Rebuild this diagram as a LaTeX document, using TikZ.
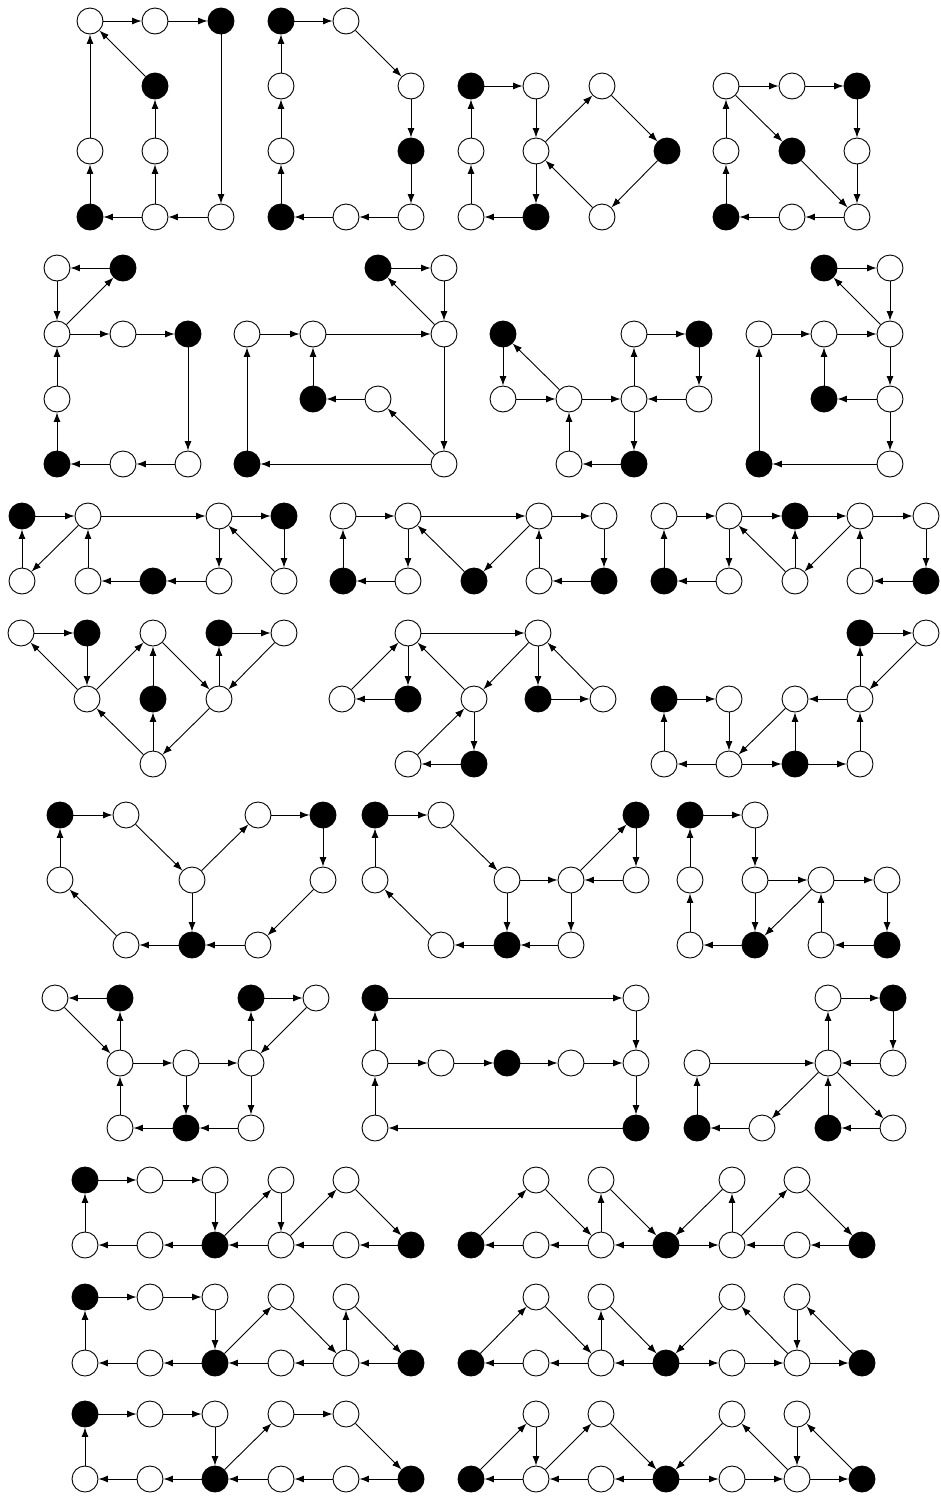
\documentclass[tikz,border=0pt]{standalone}
\usepackage{tikz}
\usetikzlibrary{arrows.meta}
\tikzset{
  wv/.style={circle,draw,fill=white,minimum size=26pt,inner sep=0pt,line width=0.9pt},
  bv/.style={wv,fill=black},
  link/.style={-{Latex[length=9.5pt,width=7pt]},line width=0.9pt}
}
\begin{document}
\begin{tikzpicture}[x=1pt,y=-1pt]
\useasboundingbox (0,0) rectangle (941,1497);
\node[wv] (a1) at (90,21) {}; \node[wv] (a2) at (155,21) {}; \node[bv] (a3) at (221,21) {};
\node[bv] (a4) at (155,86) {};
\node[wv] (a5) at (90,151) {}; \node[wv] (a6) at (155,151) {};
\node[bv] (a7) at (90,217) {}; \node[wv] (a8) at (155,217) {}; \node[wv] (a9) at (221,217) {};
\draw[link] (a1)--(a2); \draw[link] (a2)--(a3); \draw[link] (a3)--(a9); \draw[link] (a9)--(a8);
\draw[link] (a8)--(a7); \draw[link] (a7)--(a5); \draw[link] (a5)--(a1); \draw[link] (a8)--(a6);
\draw[link] (a6)--(a4); \draw[link] (a4)--(a1);

\node[bv] (b1) at (281,21) {}; \node[wv] (b2) at (346,21) {};
\node[wv] (b3) at (281,86) {}; \node[wv] (b4) at (411,86) {};
\node[wv] (b5) at (281,151) {}; \node[bv] (b6) at (411,151) {};
\node[bv] (b7) at (281,217) {}; \node[wv] (b8) at (346,217) {}; \node[wv] (b9) at (411,217) {};
\draw[link] (b1)--(b2); \draw[link] (b2)--(b4); \draw[link] (b4)--(b6); \draw[link] (b6)--(b9);
\draw[link] (b9)--(b8); \draw[link] (b8)--(b7); \draw[link] (b7)--(b5); \draw[link] (b5)--(b3);
\draw[link] (b3)--(b1);

\node[bv] (c1) at (471,86) {}; \node[wv] (c2) at (536,86) {}; \node[wv] (c3) at (602,86) {};
\node[wv] (c4) at (471,151) {}; \node[wv] (c5) at (536,151) {}; \node[bv] (c6) at (667,151) {};
\node[wv] (c7) at (471,217) {}; \node[bv] (c8) at (536,217) {}; \node[wv] (c9) at (602,217) {};
\draw[link] (c1)--(c2); \draw[link] (c2)--(c5); \draw[link] (c5)--(c3); \draw[link] (c3)--(c6);
\draw[link] (c6)--(c9); \draw[link] (c9)--(c5); \draw[link] (c5)--(c8); \draw[link] (c8)--(c7);
\draw[link] (c7)--(c4); \draw[link] (c4)--(c1);

\node[wv] (d1) at (726,86) {}; \node[wv] (d2) at (792,86) {}; \node[bv] (d3) at (857,86) {};
\node[wv] (d4) at (726,151) {}; \node[bv] (d5) at (792,151) {}; \node[wv] (d6) at (857,151) {};
\node[bv] (d7) at (726,217) {}; \node[wv] (d8) at (792,217) {}; \node[wv] (d9) at (857,217) {};
\draw[link] (d1)--(d2); \draw[link] (d2)--(d3); \draw[link] (d3)--(d6); \draw[link] (d6)--(d9);
\draw[link] (d1)--(d5); \draw[link] (d5)--(d9); \draw[link] (d9)--(d8); \draw[link] (d8)--(d7);
\draw[link] (d7)--(d4); \draw[link] (d4)--(d1);

\node[wv] (e1) at (57,268) {}; \node[bv] (e2) at (123,268) {};
\node[wv] (e3) at (57,334) {}; \node[wv] (e4) at (123,334) {}; \node[bv] (e5) at (188,334) {};
\node[wv] (e6) at (57,399) {};
\node[bv] (e7) at (57,464) {}; \node[wv] (e8) at (123,464) {}; \node[wv] (e9) at (188,464) {};
\draw[link] (e2)--(e1); \draw[link] (e1)--(e3); \draw[link] (e3)--(e2); \draw[link] (e3)--(e4);
\draw[link] (e4)--(e5); \draw[link] (e5)--(e9); \draw[link] (e9)--(e8); \draw[link] (e8)--(e7);
\draw[link] (e7)--(e6); \draw[link] (e6)--(e3);

\node[bv] (f1) at (378,268) {}; \node[wv] (f2) at (444,268) {};
\node[wv] (f3) at (247,334) {}; \node[wv] (f4) at (313,334) {}; \node[wv] (f5) at (444,334) {};
\node[bv] (f6) at (313,399) {}; \node[wv] (f7) at (378,399) {};
\node[bv] (f8) at (247,464) {}; \node[wv] (f9) at (444,464) {};
\draw[link] (f1)--(f2); \draw[link] (f2)--(f5); \draw[link] (f5)--(f1); \draw[link] (f3)--(f4);
\draw[link] (f4)--(f5); \draw[link] (f5)--(f9); \draw[link] (f9)--(f7); \draw[link] (f7)--(f6);
\draw[link] (f6)--(f4); \draw[link] (f9)--(f8); \draw[link] (f8)--(f3);

\node[bv] (g1) at (503,334) {}; \node[wv] (g2) at (634,334) {}; \node[bv] (g3) at (699,334) {};
\node[wv] (g4) at (503,399) {}; \node[wv] (g5) at (569,399) {}; \node[wv] (g6) at (634,399) {}; \node[wv] (g7) at (699,399) {};
\node[wv] (g8) at (569,464) {}; \node[bv] (g9) at (634,464) {};
\draw[link] (g1)--(g4); \draw[link] (g4)--(g5); \draw[link] (g5)--(g1); \draw[link] (g5)--(g6);
\draw[link] (g6)--(g2); \draw[link] (g2)--(g3); \draw[link] (g3)--(g7); \draw[link] (g7)--(g6);
\draw[link] (g6)--(g9); \draw[link] (g9)--(g8); \draw[link] (g8)--(g5);

\node[bv] (h1) at (824,268) {}; \node[wv] (h2) at (890,268) {};
\node[wv] (h3) at (759,334) {}; \node[wv] (h4) at (824,334) {}; \node[wv] (h5) at (890,334) {};
\node[bv] (h6) at (824,399) {}; \node[wv] (h7) at (890,399) {};
\node[bv] (h8) at (759,464) {}; \node[wv] (h9) at (890,464) {};
\draw[link] (h1)--(h2); \draw[link] (h2)--(h5); \draw[link] (h5)--(h1); \draw[link] (h3)--(h4);
\draw[link] (h4)--(h5); \draw[link] (h5)--(h7); \draw[link] (h7)--(h6); \draw[link] (h6)--(h4);
\draw[link] (h7)--(h9); \draw[link] (h9)--(h8); \draw[link] (h8)--(h3);

\node[bv] (i1) at (22,516) {}; \node[wv] (i2) at (88,516) {}; \node[wv] (i3) at (219,516) {}; \node[bv] (i4) at (284,516) {};
\node[wv] (i5) at (22,581) {}; \node[wv] (i6) at (88,581) {}; \node[bv] (i7) at (153,581) {}; \node[wv] (i8) at (219,581) {}; \node[wv] (i9) at (284,581) {};
\draw[link] (i1)--(i2); \draw[link] (i2)--(i3); \draw[link] (i3)--(i4); \draw[link] (i5)--(i1);
\draw[link] (i2)--(i5); \draw[link] (i6)--(i2); \draw[link] (i7)--(i6); \draw[link] (i8)--(i7);
\draw[link] (i3)--(i8); \draw[link] (i4)--(i9); \draw[link] (i9)--(i3);

\node[wv] (j1) at (343,516) {}; \node[wv] (j2) at (408,516) {}; \node[wv] (j3) at (539,516) {}; \node[wv] (j4) at (604,516) {};
\node[bv] (j5) at (343,581) {}; \node[wv] (j6) at (408,581) {}; \node[bv] (j7) at (474,581) {}; \node[wv] (j8) at (539,581) {}; \node[bv] (j9) at (604,581) {};
\draw[link] (j1)--(j2); \draw[link] (j2)--(j3); \draw[link] (j3)--(j4); \draw[link] (j5)--(j1);
\draw[link] (j2)--(j6); \draw[link] (j6)--(j5); \draw[link] (j7)--(j2); \draw[link] (j3)--(j7);
\draw[link] (j8)--(j3); \draw[link] (j9)--(j8); \draw[link] (j4)--(j9);

\node[wv] (k1) at (664,516) {}; \node[wv] (k2) at (729,516) {}; \node[bv] (k3) at (795,516) {}; \node[wv] (k4) at (860,516) {}; \node[wv] (k5) at (926,516) {};
\node[bv] (k6) at (664,581) {}; \node[wv] (k7) at (729,581) {}; \node[wv] (k8) at (795,581) {}; \node[wv] (k9) at (860,581) {}; \node[bv] (k10) at (926,581) {};
\draw[link] (k1)--(k2); \draw[link] (k2)--(k3); \draw[link] (k3)--(k4); \draw[link] (k4)--(k5);
\draw[link] (k6)--(k1); \draw[link] (k2)--(k7); \draw[link] (k7)--(k6); \draw[link] (k8)--(k2);
\draw[link] (k8)--(k3); \draw[link] (k4)--(k8); \draw[link] (k9)--(k4); \draw[link] (k10)--(k9);
\draw[link] (k5)--(k10);

\node[wv] (l1) at (21,633) {}; \node[bv] (l2) at (87,633) {}; \node[wv] (l3) at (153,633) {}; \node[bv] (l4) at (219,633) {}; \node[wv] (l5) at (284,633) {};
\node[wv] (l6) at (87,699) {}; \node[bv] (l7) at (153,699) {}; \node[wv] (l8) at (219,699) {};
\node[wv] (l9) at (153,764) {};
\draw[link] (l1)--(l2); \draw[link] (l2)--(l6); \draw[link] (l6)--(l1); \draw[link] (l6)--(l3);
\draw[link] (l7)--(l3); \draw[link] (l3)--(l8); \draw[link] (l9)--(l7); \draw[link] (l9)--(l6);
\draw[link] (l8)--(l9); \draw[link] (l8)--(l4); \draw[link] (l4)--(l5); \draw[link] (l5)--(l8);

\node[wv] (m1) at (408,633) {}; \node[wv] (m2) at (538,633) {};
\node[wv] (m3) at (342,699) {}; \node[bv] (m4) at (408,699) {}; \node[wv] (m5) at (474,699) {}; \node[bv] (m6) at (538,699) {}; \node[wv] (m7) at (603,699) {};
\node[wv] (m8) at (408,764) {}; \node[bv] (m9) at (474,764) {};
\draw[link] (m1)--(m2); \draw[link] (m3)--(m1); \draw[link] (m1)--(m4); \draw[link] (m4)--(m3);
\draw[link] (m5)--(m1); \draw[link] (m2)--(m5); \draw[link] (m2)--(m6); \draw[link] (m6)--(m7);
\draw[link] (m7)--(m2); \draw[link] (m8)--(m5); \draw[link] (m5)--(m9); \draw[link] (m9)--(m8);

\node[bv] (n1) at (860,633) {}; \node[wv] (n2) at (926,633) {};
\node[bv] (n3) at (664,699) {}; \node[wv] (n4) at (729,699) {}; \node[wv] (n5) at (795,699) {}; \node[wv] (n6) at (860,699) {};
\node[wv] (n7) at (664,764) {}; \node[wv] (n8) at (729,764) {}; \node[bv] (n9) at (795,764) {}; \node[wv] (n10) at (860,764) {};
\draw[link] (n1)--(n2); \draw[link] (n2)--(n6); \draw[link] (n6)--(n1); \draw[link] (n6)--(n5);
\draw[link] (n5)--(n8); \draw[link] (n3)--(n4); \draw[link] (n4)--(n8); \draw[link] (n8)--(n7);
\draw[link] (n7)--(n3); \draw[link] (n8)--(n9); \draw[link] (n9)--(n5); \draw[link] (n9)--(n10);
\draw[link] (n10)--(n6);

\node[bv] (o1) at (60,815) {}; \node[wv] (o2) at (126,815) {}; \node[wv] (o3) at (258,815) {}; \node[bv] (o4) at (323,815) {};
\node[wv] (o5) at (60,880) {}; \node[wv] (o6) at (192,880) {}; \node[wv] (o7) at (323,880) {};
\node[wv] (o8) at (126,945) {}; \node[bv] (o9) at (192,945) {}; \node[wv] (o10) at (258,945) {};
\draw[link] (o1)--(o2); \draw[link] (o2)--(o6); \draw[link] (o6)--(o3); \draw[link] (o3)--(o4);
\draw[link] (o4)--(o7); \draw[link] (o7)--(o10); \draw[link] (o10)--(o9); \draw[link] (o9)--(o8);
\draw[link] (o6)--(o9); \draw[link] (o8)--(o5); \draw[link] (o5)--(o1);

\node[bv] (p1) at (375,815) {}; \node[wv] (p2) at (441,815) {}; \node[bv] (p3) at (636,815) {};
\node[wv] (p4) at (375,880) {}; \node[wv] (p5) at (507,880) {}; \node[wv] (p6) at (571,880) {}; \node[wv] (p7) at (636,880) {};
\node[wv] (p8) at (441,945) {}; \node[bv] (p9) at (507,945) {}; \node[wv] (p10) at (571,945) {};
\draw[link] (p1)--(p2); \draw[link] (p2)--(p5); \draw[link] (p5)--(p6); \draw[link] (p7)--(p6);
\draw[link] (p6)--(p3); \draw[link] (p3)--(p7); \draw[link] (p5)--(p9); \draw[link] (p6)--(p10);
\draw[link] (p10)--(p9); \draw[link] (p9)--(p8); \draw[link] (p8)--(p4); \draw[link] (p4)--(p1);

\node[bv] (q1) at (690,815) {}; \node[wv] (q2) at (755,815) {};
\node[wv] (q3) at (690,880) {}; \node[wv] (q4) at (755,880) {}; \node[wv] (q5) at (821,880) {}; \node[wv] (q6) at (887,880) {};
\node[wv] (q7) at (690,945) {}; \node[bv] (q8) at (755,945) {}; \node[wv] (q9) at (821,945) {}; \node[bv] (q10) at (887,945) {};
\draw[link] (q1)--(q2); \draw[link] (q2)--(q4); \draw[link] (q4)--(q5); \draw[link] (q5)--(q6);
\draw[link] (q6)--(q10); \draw[link] (q10)--(q9); \draw[link] (q9)--(q5); \draw[link] (q5)--(q8);
\draw[link] (q4)--(q8); \draw[link] (q8)--(q7); \draw[link] (q7)--(q3); \draw[link] (q3)--(q1);

\node[wv] (r1) at (55,998) {}; \node[bv] (r2) at (120,998) {}; \node[bv] (r3) at (251,998) {}; \node[wv] (r4) at (316,998) {};
\node[wv] (r5) at (120,1063) {}; \node[wv] (r6) at (186,1063) {}; \node[wv] (r7) at (251,1063) {};
\node[wv] (r8) at (120,1128) {}; \node[bv] (r9) at (186,1128) {}; \node[wv] (r10) at (251,1128) {};
\draw[link] (r2)--(r1); \draw[link] (r1)--(r5); \draw[link] (r5)--(r2); \draw[link] (r3)--(r4);
\draw[link] (r4)--(r7); \draw[link] (r7)--(r3); \draw[link] (r5)--(r6); \draw[link] (r6)--(r7);
\draw[link] (r6)--(r9); \draw[link] (r7)--(r10); \draw[link] (r10)--(r9); \draw[link] (r9)--(r8);
\draw[link] (r8)--(r5);

\node[bv] (s1) at (375,998) {}; \node[wv] (s2) at (636,998) {};
\node[wv] (s3) at (375,1063) {}; \node[wv] (s4) at (441,1063) {}; \node[bv] (s5) at (507,1063) {}; \node[wv] (s6) at (571,1063) {}; \node[wv] (s7) at (636,1063) {};
\node[wv] (s8) at (375,1128) {}; \node[bv] (s9) at (636,1128) {};
\draw[link] (s1)--(s2); \draw[link] (s2)--(s7); \draw[link] (s3)--(s4); \draw[link] (s4)--(s5);
\draw[link] (s5)--(s6); \draw[link] (s6)--(s7); \draw[link] (s7)--(s9); \draw[link] (s9)--(s8);
\draw[link] (s8)--(s3); \draw[link] (s3)--(s1);

\node[wv] (t1) at (828,998) {}; \node[bv] (t2) at (893,998) {};
\node[wv] (t3) at (697,1063) {}; \node[wv] (t4) at (828,1063) {}; \node[wv] (t5) at (893,1063) {};
\node[bv] (t6) at (697,1128) {}; \node[wv] (t7) at (762,1128) {}; \node[bv] (t8) at (828,1128) {}; \node[wv] (t9) at (893,1128) {};
\draw[link] (t1)--(t2); \draw[link] (t2)--(t5); \draw[link] (t5)--(t4); \draw[link] (t4)--(t1);
\draw[link] (t3)--(t4); \draw[link] (t4)--(t7); \draw[link] (t7)--(t6); \draw[link] (t6)--(t3);
\draw[link] (t8)--(t4); \draw[link] (t4)--(t9); \draw[link] (t9)--(t8);

\node[bv] (u1) at (85,1180) {}; \node[wv] (u2) at (150,1180) {}; \node[wv] (u3) at (215,1180) {}; \node[wv] (u4) at (281,1180) {}; \node[wv] (u5) at (346,1180) {};
\node[wv] (u6) at (85,1245) {}; \node[wv] (u7) at (150,1245) {}; \node[bv] (u8) at (215,1245) {}; \node[wv] (u9) at (281,1245) {}; \node[wv] (u10) at (346,1245) {}; \node[bv] (u11) at (411,1245) {};
\draw[link] (u1)--(u2); \draw[link] (u2)--(u3); \draw[link] (u3)--(u8); \draw[link] (u8)--(u4);
\draw[link] (u4)--(u9); \draw[link] (u9)--(u5); \draw[link] (u5)--(u11); \draw[link] (u11)--(u10);
\draw[link] (u10)--(u9); \draw[link] (u9)--(u8); \draw[link] (u8)--(u7); \draw[link] (u7)--(u6);
\draw[link] (u6)--(u1);

\node[wv] (v1) at (536,1180) {}; \node[wv] (v2) at (601,1180) {}; \node[wv] (v3) at (732,1180) {}; \node[wv] (v4) at (797,1180) {};
\node[bv] (v5) at (471,1245) {}; \node[wv] (v6) at (536,1245) {}; \node[wv] (v7) at (601,1245) {}; \node[bv] (v8) at (666,1245) {}; \node[wv] (v9) at (732,1245) {}; \node[wv] (v10) at (797,1245) {}; \node[bv] (v11) at (862,1245) {};
\draw[link] (v5)--(v1); \draw[link] (v1)--(v7); \draw[link] (v7)--(v2); \draw[link] (v2)--(v8);
\draw[link] (v3)--(v8); \draw[link] (v9)--(v3); \draw[link] (v9)--(v4); \draw[link] (v4)--(v11);
\draw[link] (v11)--(v10); \draw[link] (v10)--(v9); \draw[link] (v8)--(v9); \draw[link] (v8)--(v7);
\draw[link] (v7)--(v6); \draw[link] (v6)--(v5);

\node[bv] (w1) at (85,1297) {}; \node[wv] (w2) at (150,1297) {}; \node[wv] (w3) at (215,1297) {}; \node[wv] (w4) at (281,1297) {}; \node[wv] (w5) at (346,1297) {};
\node[wv] (w6) at (85,1363) {}; \node[wv] (w7) at (150,1363) {}; \node[bv] (w8) at (215,1363) {}; \node[wv] (w9) at (281,1363) {}; \node[wv] (w10) at (346,1363) {}; \node[bv] (w11) at (411,1363) {};
\draw[link] (w1)--(w2); \draw[link] (w2)--(w3); \draw[link] (w3)--(w8); \draw[link] (w8)--(w4);
\draw[link] (w4)--(w10); \draw[link] (w10)--(w5); \draw[link] (w5)--(w11); \draw[link] (w11)--(w10);
\draw[link] (w10)--(w9); \draw[link] (w9)--(w8); \draw[link] (w8)--(w7); \draw[link] (w7)--(w6);
\draw[link] (w6)--(w1);

\node[wv] (x1) at (536,1297) {}; \node[wv] (x2) at (601,1297) {}; \node[wv] (x3) at (732,1297) {}; \node[wv] (x4) at (797,1297) {};
\node[bv] (x5) at (471,1363) {}; \node[wv] (x6) at (536,1363) {}; \node[wv] (x7) at (601,1363) {}; \node[bv] (x8) at (666,1363) {}; \node[wv] (x9) at (732,1363) {}; \node[wv] (x10) at (797,1363) {}; \node[bv] (x11) at (862,1363) {};
\draw[link] (x5)--(x1); \draw[link] (x1)--(x7); \draw[link] (x7)--(x2); \draw[link] (x2)--(x8);
\draw[link] (x3)--(x8); \draw[link] (x10)--(x3); \draw[link] (x4)--(x10); \draw[link] (x11)--(x4);
\draw[link] (x10)--(x11); \draw[link] (x9)--(x10); \draw[link] (x8)--(x9); \draw[link] (x8)--(x7);
\draw[link] (x7)--(x6); \draw[link] (x6)--(x5);

\node[bv] (y1) at (85,1414) {}; \node[wv] (y2) at (150,1414) {}; \node[wv] (y3) at (215,1414) {}; \node[wv] (y4) at (281,1414) {}; \node[wv] (y5) at (346,1414) {};
\node[wv] (y6) at (85,1479) {}; \node[wv] (y7) at (150,1479) {}; \node[bv] (y8) at (215,1479) {}; \node[wv] (y9) at (281,1479) {}; \node[wv] (y10) at (346,1479) {}; \node[bv] (y11) at (411,1479) {};
\draw[link] (y1)--(y2); \draw[link] (y2)--(y3); \draw[link] (y3)--(y8); \draw[link] (y8)--(y4);
\draw[link] (y4)--(y5); \draw[link] (y5)--(y11); \draw[link] (y11)--(y10); \draw[link] (y10)--(y9);
\draw[link] (y9)--(y8); \draw[link] (y8)--(y7); \draw[link] (y7)--(y6); \draw[link] (y6)--(y1);

\node[wv] (z1) at (536,1414) {}; \node[wv] (z2) at (601,1414) {}; \node[wv] (z3) at (732,1414) {}; \node[wv] (z4) at (797,1414) {};
\node[bv] (z5) at (471,1479) {}; \node[wv] (z6) at (536,1479) {}; \node[wv] (z7) at (601,1479) {}; \node[bv] (z8) at (666,1479) {}; \node[wv] (z9) at (732,1479) {}; \node[wv] (z10) at (797,1479) {}; \node[bv] (z11) at (862,1479) {};
\draw[link] (z5)--(z1); \draw[link] (z1)--(z6); \draw[link] (z6)--(z2); \draw[link] (z2)--(z8);
\draw[link] (z3)--(z8); \draw[link] (z10)--(z3); \draw[link] (z4)--(z10); \draw[link] (z11)--(z4);
\draw[link] (z10)--(z11); \draw[link] (z9)--(z10); \draw[link] (z8)--(z9); \draw[link] (z8)--(z7);
\draw[link] (z7)--(z6); \draw[link] (z6)--(z5);
\end{tikzpicture}
\end{document}
